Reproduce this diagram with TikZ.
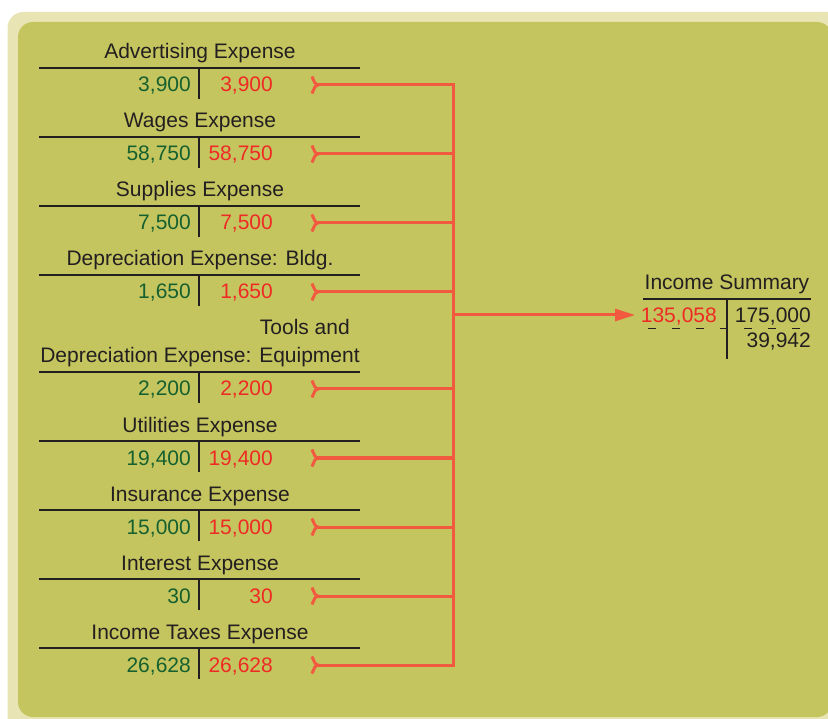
\documentclass[tikz,border=0pt]{standalone}
\usepackage{fontspec}
\setmainfont{Liberation Sans}
\usetikzlibrary{arrows.meta}

\definecolor{framepale}{HTML}{E9E4B3}
\definecolor{panel}{HTML}{C5C55F}
\definecolor{ink}{HTML}{231F20}
\definecolor{debit}{HTML}{15602E}
\definecolor{credit}{HTML}{EE2A24}
\definecolor{flow}{HTML}{F15A3F}

% One closing T-account: #1 name, #2 y of the rule, #3 title, #4 amount
\newcommand\expacct[4]{%
  \node[acctitle] (#1-t) at (200,#2-9) {#3};
  \draw[rule] (39,#2) coordinate (#1-l) -- (360,#2) coordinate (#1-r);
  \draw[rule] (199,#2) coordinate (#1-top) -- (199,#2+31) coordinate (#1-bot);
  \node[dr] (#1-dr) at (191,#2+24) {#4};
  \node[cr] (#1-cr) at (273,#2+24) {#4};
  \coordinate (#1-tail) at (317,#2+17);
  \coordinate (#1-j) at (453,#2+17);
  \draw[flowline] ([shift={(-5,-8.5)}]#1-tail) .. controls ([shift={(-3,-4)}]#1-tail) and ([shift={(-2,0)}]#1-tail) .. ([shift={(1,0)}]#1-tail)
                  .. controls ([shift={(-2,0)}]#1-tail) and ([shift={(-3,4)}]#1-tail) .. ([shift={(-5,8.5)}]#1-tail);
}

\begin{document}
\begin{tikzpicture}[x=1pt,y=-1pt,
  font=\fontsize{21}{25}\selectfont,
  acctitle/.style={anchor=base, inner sep=0pt, text=ink},
  dr/.style={anchor=base east, inner sep=0pt, text=debit},
  cr/.style={anchor=base east, inner sep=0pt, text=credit},
  plain/.style={anchor=base east, inner sep=0pt, text=ink},
  rule/.style={draw=ink, line width=2pt},
  flowline/.style={draw=flow, line width=3pt},
]
\useasboundingbox (0,0) rectangle (828,719);
\clip (0,0) rectangle (828,719);
\fill[white] (0,0) rectangle (828,719);
\fill[framepale, rounded corners=16pt] (7.5,12) rectangle (860,760);
\fill[panel, rounded corners=15pt] (18,22) rectangle (832,717);

% expense accounts
\expacct{adv}{68}{Advertising Expense}{3,900}
\expacct{wag}{137}{Wages Expense}{58,750}
\expacct{sup}{206}{Supplies Expense}{7,500}
\expacct{bld}{275}{Depreciation Expense: Bldg.}{1,650}
\expacct{equ}{372}{Depreciation Expense: Equipment}{2,200}
\node[plain] (equ-t2) at (350,335) {Tools and};
\expacct{utl}{441}{Utilities Expense}{19,400}
\expacct{ins}{510}{Insurance Expense}{15,000}
\expacct{int}{579}{Interest Expense}{30}
\expacct{tax}{648}{Income Taxes Expense}{26,628}

% closing entries gathered on one trunk
\draw[flowline, line join=miter] (adv-tail) -- (adv-j) -- (tax-j) -- (tax-tail);
\foreach \n in {wag,sup,bld,equ,utl,ins,int}
  \draw[flowline] (\n-tail) -- (\n-j);

% Income Summary account
\node[acctitle] (is-t) at (727,290) {Income Summary};
\draw[rule] (643,299) coordinate (is-l) -- (811,299) coordinate (is-r);
\draw[rule] (727,299) coordinate (is-top) -- (727,359) coordinate (is-bot);
\node[cr] (is-dr) at (717,323) {135,058};
\node[plain] (is-cr) at (811,323) {175,000};
\node[plain] (is-bal) at (811,348) {39,942};
\draw[ink, line width=1.4pt, dash pattern=on 7.5pt off 16.5pt] (648,328.5) -- (802,328.5);

\coordinate (hub) at (453,315);
\coordinate (is-in) at (635,315);
\draw[flowline, -{Triangle[length=20pt,width=12pt]}] (hub) -- (is-in);
\end{tikzpicture}
\end{document}
